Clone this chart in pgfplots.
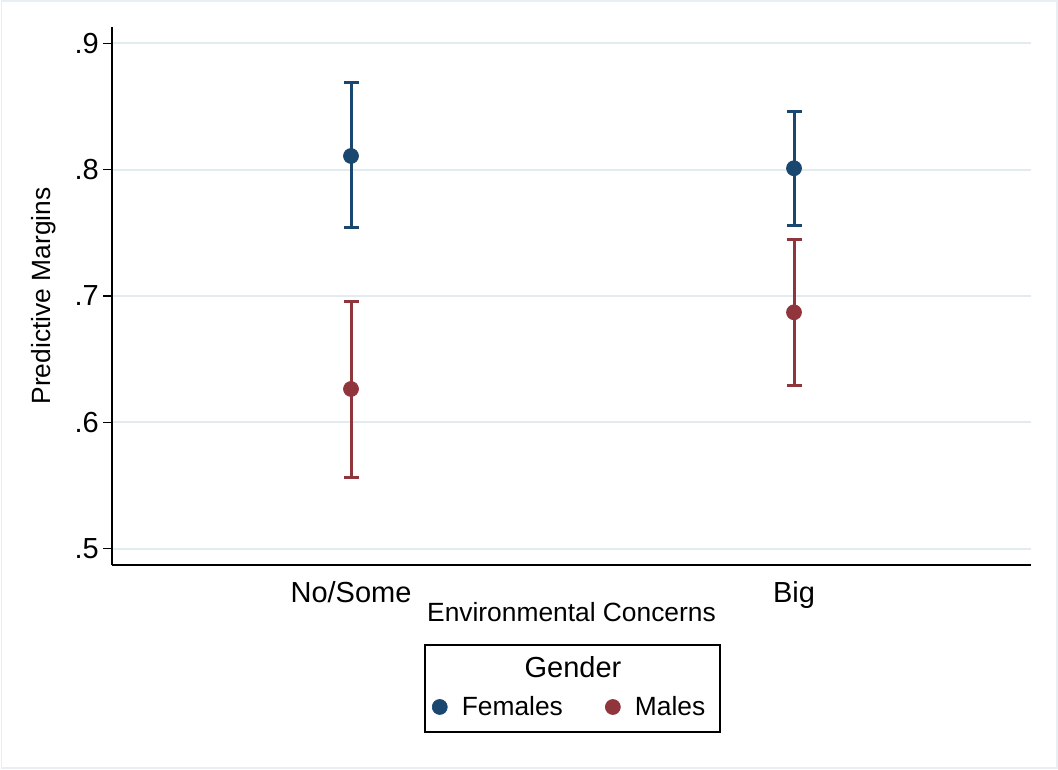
\documentclass[border=0pt]{standalone}
\usepackage{pgfplots}
\pgfplotsset{compat=1.18}
\usepackage{fontspec}
\setmainfont{Liberation Sans}

\definecolor{stnavy}{RGB}{26,71,111}
\definecolor{stmaroon}{RGB}{144,53,59}
\definecolor{gridc}{RGB}{226,235,240}
\definecolor{framec}{RGB}{232,238,242}

\begin{document}
\begin{tikzpicture}[x=1cm,y=1cm]
\useasboundingbox (0,0) rectangle (21.16,15.38);
\draw[framec, line width=0.04cm] (0.03,0.03) rectangle (21.13,15.35);
\begin{axis}[
  at={(2.24cm,4.08cm)}, anchor=south west,
  scale only axis,
  width=18.38cm, height=10.76cm,
  xmin=-0.5395, xmax=1.535,
  ymin=0.4871, ymax=0.9129,
  axis x line=bottom, axis y line=left,
  axis line style={-, line width=0.03cm, black},
  xtick={0,1}, xticklabels={No/Some, Big},
  xtick style={draw=none},
  ytick={0.5,0.6,0.7,0.8,0.9},
  yticklabels={.5,.6,.7,.8,.9},
  tick align=outside,
  ytick style={line width=0.03cm, black},
  major tick length=0.18cm,
  ymajorgrids,
  grid style={gridc, line width=0.04cm},
  ticklabel style={font=\fontsize{16.5}{18}\selectfont},
  xticklabel style={yshift=-0.02cm},
  yticklabel style={xshift=0.04cm},
  xlabel={Environmental Concerns},
  ylabel={Predictive Margins},
  label style={font=\fontsize{15}{17}\selectfont},
  xlabel style={at={(axis description cs:0.5,-0.0874)}, anchor=center},
  ylabel style={at={(axis description cs:-0.0740,0.5)}, anchor=center, rotate=0},
  legend style={
    at={(axis description cs:0.4989,-0.2639)}, anchor=center,
    draw=none, fill=none,
    font=\fontsize{15}{17}\selectfont,
    /tikz/every odd column/.append style={column sep=0.22cm},
    /tikz/every even column/.append style={column sep=0.78cm},
  },
  legend columns=2,
  legend cell align=left,
  clip=false,
]
% Females
\addplot[only marks, mark=*, mark size=0.15cm, color=stnavy,
  error bars/.cd, y dir=both, y explicit,
  error bar style={line width=0.06cm, stnavy},
  error mark options={line width=0.06cm, mark size=0.15cm, stnavy, rotate=90}]
  coordinates {
    (0,0.8108) += (0,0.0580) -= (0,0.0567)
    (1,0.8011) += (0,0.0453) -= (0,0.0455)
  };
% Males
\addplot[only marks, mark=*, mark size=0.15cm, color=stmaroon,
  error bars/.cd, y dir=both, y explicit,
  error bar style={line width=0.06cm, stmaroon},
  error mark options={line width=0.06cm, mark size=0.15cm, stmaroon, rotate=90}]
  coordinates {
    (0,0.6264) += (0,0.0691) -= (0,0.0702)
    (1,0.6871) += (0,0.0580) -= (0,0.0581)
  };
\legend{Females, Males}
\end{axis}
% legend frame and title
\draw[black, line width=0.03cm] (8.50,0.74) rectangle (14.40,2.48);
\node[font=\fontsize{16.5}{18}\selectfont] at (11.46,2.04) {Gender};
\end{tikzpicture}
\end{document}
